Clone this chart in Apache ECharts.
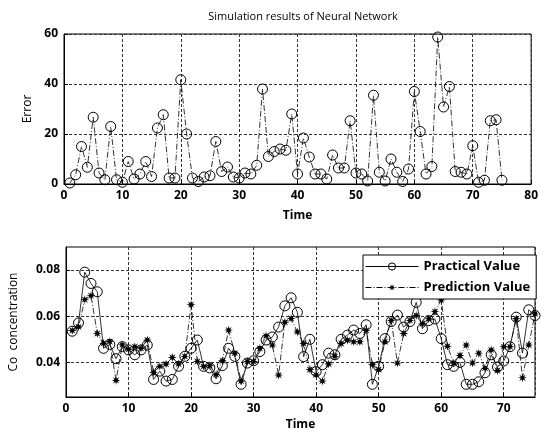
<!DOCTYPE html>
<html>
<head>
<meta charset="utf-8">
<script src="https://cdn.jsdelivr.net/npm/echarts@6/dist/echarts.min.js"></script>
<style>
  html, body { margin: 0; padding: 0; background: #fff; }
  #chart { width: 541px; height: 432px; }
</style>
</head>
<body>
<div id="chart"></div>
<script>
// sample index (Time)
const time = [1, 2, 3, 4, 5, 6, 7, 8, 9, 10, 11, 12, 13, 14, 15, 16, 17, 18, 19, 20,
  21, 22, 23, 24, 25, 26, 27, 28, 29, 30, 31, 32, 33, 34, 35, 36, 37, 38, 39, 40,
  41, 42, 43, 44, 45, 46, 47, 48, 49, 50, 51, 52, 53, 54, 55, 56, 57, 58, 59, 60,
  61, 62, 63, 64, 65, 66, 67, 68, 69, 70, 71, 72, 73, 74, 75]

// top plot: relative error (%)
const errorPct = [0.4, 3.7, 15, 6.7, 26.7, 4.4, 1.7, 23, 1.7, 0.7,
  9, 2, 4, 9, 3, 22.4, 27.7, 2.4, 2.4, 41.7,
  20, 2.4, 1, 2.8, 3.3, 17, 5, 6.8, 2.8, 2.4,
  4.4, 4, 7.5, 38, 11, 13, 14, 13.5, 28, 4,
  18.4, 10.8, 4, 4, 2, 11.6, 6.4, 6.4, 25.3, 4.4,
  4, 1.2, 35.5, 4.7, 1.2, 10, 4.7, 1, 6, 37,
  21, 4, 7, 58.8, 30.8, 39, 5, 4.7, 4, 15.3,
  0.7, 1.5, 25.3, 25.7, 1.5]

// bottom plot: Co concentration
const practical = [0.0535, 0.0571, 0.0791, 0.0742, 0.0706, 0.0461, 0.0478, 0.0416, 0.0468, 0.0454,
  0.0433, 0.0454, 0.0475, 0.0326, 0.0362, 0.0319, 0.0326, 0.0383, 0.0426, 0.0461,
  0.0497, 0.0383, 0.0376, 0.0329, 0.0386, 0.0461, 0.0426, 0.0305, 0.0397, 0.0407,
  0.0447, 0.0497, 0.051, 0.0553, 0.0645, 0.068, 0.0617, 0.0425, 0.050, 0.036,
  0.039, 0.044, 0.0433, 0.050, 0.0518, 0.054, 0.0525, 0.0563, 0.0305, 0.0383,
  0.0503, 0.0577, 0.0605, 0.0553, 0.0577, 0.066, 0.0546, 0.0581, 0.0588, 0.0503,
  0.039, 0.0383, 0.040, 0.0305, 0.0305, 0.0316, 0.0355, 0.0433, 0.038, 0.0406,
  0.0468, 0.0596, 0.044, 0.0628, 0.0603]

const prediction = [0.0538, 0.0554, 0.0672, 0.0689, 0.0525, 0.0483, 0.049, 0.0322, 0.0476, 0.0457,
  0.0468, 0.0461, 0.0497, 0.0357, 0.0383, 0.0393, 0.0421, 0.0393, 0.0426, 0.065,
  0.0404, 0.0383, 0.0386, 0.0347, 0.0407, 0.054, 0.044, 0.0319, 0.0404, 0.0404,
  0.0461, 0.0515, 0.0475, 0.0345, 0.0574, 0.059, 0.0532, 0.0482, 0.0369, 0.0346,
  0.0319, 0.0393, 0.0426, 0.0482, 0.0496, 0.0489, 0.0489, 0.0539, 0.039, 0.0369,
  0.0489, 0.0582, 0.0397, 0.0525, 0.0582, 0.0603, 0.0567, 0.0589, 0.062, 0.067,
  0.047, 0.0397, 0.043, 0.0475, 0.0397, 0.044, 0.0375, 0.0454, 0.0365, 0.0468,
  0.0468, 0.0589, 0.0333, 0.0475, 0.061]

const concTicks = [0.04, 0.06, 0.08]

const FONT = 'Open Sans'
const star = 'path://M20 10L13.7 11.53L17.07 17.07L11.53 13.7L10 20L8.47 13.7L2.93 17.07L6.3 11.53L0 10L6.3 8.47L2.93 2.93L8.47 6.3L10 0L11.53 6.3L17.07 2.93L13.7 8.47Z'

const pairs = vals => time.map((t, i) => [t, vals[i]])

const gridLine = { show: true, lineStyle: { color: '#333', width: 1, type: [3, 2] } }
const tickLabel = { color: '#000', fontFamily: FONT, fontWeight: 'bold', fontSize: 12 }
const axisName = { color: '#000', fontFamily: FONT, fontWeight: 'bold', fontSize: 12 }
const ring = { color: 'rgba(0,0,0,0)', borderColor: '#000', borderWidth: 1 }

const chart = echarts.init(document.getElementById('chart'))
chart.setOption({
  animation: false,
  backgroundColor: '#fff',
  title: {
    text: 'Simulation results of Neural Network',
    left: 298,
    top: 6,
    textAlign: 'center',
    textStyle: { color: '#000', fontFamily: FONT, fontWeight: 'normal', fontSize: 11 }
  },
  legend: {
    data: ['Practical Value', 'Prediction Value'],
    orient: 'vertical',
    left: 363,
    top: 255,
    itemWidth: 53,
    itemHeight: 9,
    itemGap: 8,
    padding: [5, 6, 5, 2],
    backgroundColor: '#fff',
    borderColor: '#000',
    borderWidth: 1,
    lineStyle: { width: 1 },
    itemStyle: { borderWidth: 1 },
    textStyle: { color: '#000', fontFamily: FONT, fontWeight: 'bold', fontSize: 13 }
  },
  grid: [
    { left: 64, right: 8, top: 34, bottom: 248, show: true, borderColor: '#000', borderWidth: 1 },
    { left: 63, right: 6, top: 247, bottom: 32, show: true, borderColor: '#000', borderWidth: 1 }
  ],
  xAxis: [
    {
      gridIndex: 0, type: 'value', min: 0, max: 80, interval: 10,
      name: 'Time', nameLocation: 'middle', nameGap: 26, nameTextStyle: axisName,
      axisLine: { lineStyle: { color: '#000' } },
      axisTick: { inside: true, length: 4 },
      axisLabel: Object.assign({ margin: 6 }, tickLabel),
      splitLine: gridLine
    },
    {
      gridIndex: 1, type: 'value', min: 0, max: 75, interval: 10,
      name: 'Time', nameLocation: 'middle', nameGap: 22, nameTextStyle: axisName,
      axisLine: { lineStyle: { color: '#000' } },
      axisTick: { inside: true, length: 4 },
      axisLabel: Object.assign({ margin: 6, showMaxLabel: false }, tickLabel),
      splitLine: gridLine
    }
  ],
  yAxis: [
    {
      gridIndex: 0, type: 'value', min: 0, max: 60, interval: 20,
      name: 'Error', nameLocation: 'middle', nameRotate: 90, nameGap: 30,
      nameTextStyle: Object.assign({}, axisName, { fontWeight: 'normal' }),
      axisLine: { show: true, lineStyle: { color: '#000' } },
      axisTick: { inside: true, length: 4 },
      axisLabel: Object.assign({ margin: 6 }, tickLabel),
      splitLine: gridLine
    },
    {
      gridIndex: 1, type: 'value', min: 0.025, max: 0.09,
      name: 'Co  concentration', nameLocation: 'middle', nameRotate: 90, nameGap: 46,
      nameTextStyle: Object.assign({}, axisName, { fontWeight: 'normal' }),
      axisLine: { show: true, lineStyle: { color: '#000' } },
      axisTick: { inside: true, length: 4, customValues: concTicks },
      axisLabel: Object.assign({ margin: 6, customValues: concTicks, formatter: v => v.toFixed(2) }, tickLabel),
      splitLine: gridLine
    }
  ],
  series: [
    {
      name: 'Error', type: 'line', xAxisIndex: 0, yAxisIndex: 0,
      data: pairs(errorPct),
      symbol: 'circle', symbolSize: 10,
      itemStyle: ring,
      lineStyle: { color: '#000', width: 0.8, type: [6, 2, 1, 2] }
    },
    {
      name: 'Practical Value', type: 'line', xAxisIndex: 1, yAxisIndex: 1,
      data: pairs(practical),
      symbol: 'circle', symbolSize: 10,
      itemStyle: ring,
      lineStyle: { color: '#000', width: 0.8 }
    },
    {
      name: 'Prediction Value', type: 'line', xAxisIndex: 1, yAxisIndex: 1,
      data: pairs(prediction),
      symbol: star, symbolSize: 9,
      itemStyle: { color: '#000' },
      lineStyle: { color: '#000', width: 0.8, type: [6, 2, 1, 2] }
    }
  ]
})
</script>
</body>
</html>
